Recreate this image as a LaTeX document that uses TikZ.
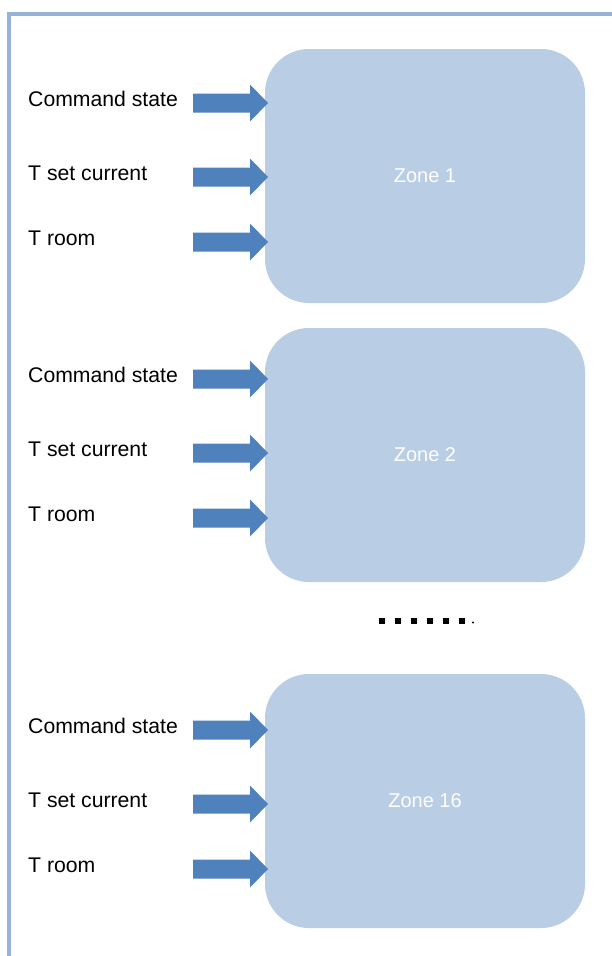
\documentclass[tikz,border=0pt]{standalone}
\usepackage{fontspec}
\setmainfont{Liberation Sans}
\definecolor{framec}{HTML}{95B3D7}
\definecolor{boxc}{HTML}{B9CDE5}
\definecolor{arrowc}{HTML}{4F81BD}
\begin{document}
\begin{tikzpicture}[x=1pt,y=-1pt,
  zonebox/.style={fill=boxc,draw=none,rounded corners=44pt,minimum width=320pt,minimum height=254pt,inner sep=0pt,text=white,font=\fontsize{20}{24}\selectfont},
  lbl/.style={anchor=west,inner sep=0pt,font=\fontsize{21.2}{24}\selectfont},
  dotsq/.style={fill=black}]
\useasboundingbox (0,0) rectangle (611,956);
\fill[white] (0,0) rectangle (611,956);
\draw[framec,line width=4pt] (9,958) -- (9,13.5) -- (613,13.5);
\newcommand{\inarrow}[1]{\fill[arrowc] (#1) ++(-75,-9.5) -- ++(57,0) -- ++(0,-9) -- ++(18,18.5) -- ++(-18,18.5) -- ++(0,-9) -- ++(-57,0) -- cycle;}
\foreach \i/\dy/\zc/\z in {1/0/176/Zone 1,2/276/455/Zone 2,3/627/801/Zone 16}{
  \node[zonebox] (zone\i) at (425,\zc) {\z};
  \node[lbl] (cmd\i) at (28,99+\dy) {Command state};
  \node[lbl] (tset\i) at (28,173+\dy) {T set current};
  \node[lbl] (troom\i) at (28,238+\dy) {T room};
  \coordinate (a\i) at (268,103+\dy);
  \coordinate (b\i) at (268,177+\dy);
  \coordinate (c\i) at (268,242+\dy);
  \inarrow{a\i}
  \inarrow{b\i}
  \inarrow{c\i}
}
\foreach \k in {0,...,5}{
  \fill[dotsq] (378.5+16*\k,618) rectangle ++(6,6);
}
\fill (473,622.5) circle (1.1);
\end{tikzpicture}
\end{document}
